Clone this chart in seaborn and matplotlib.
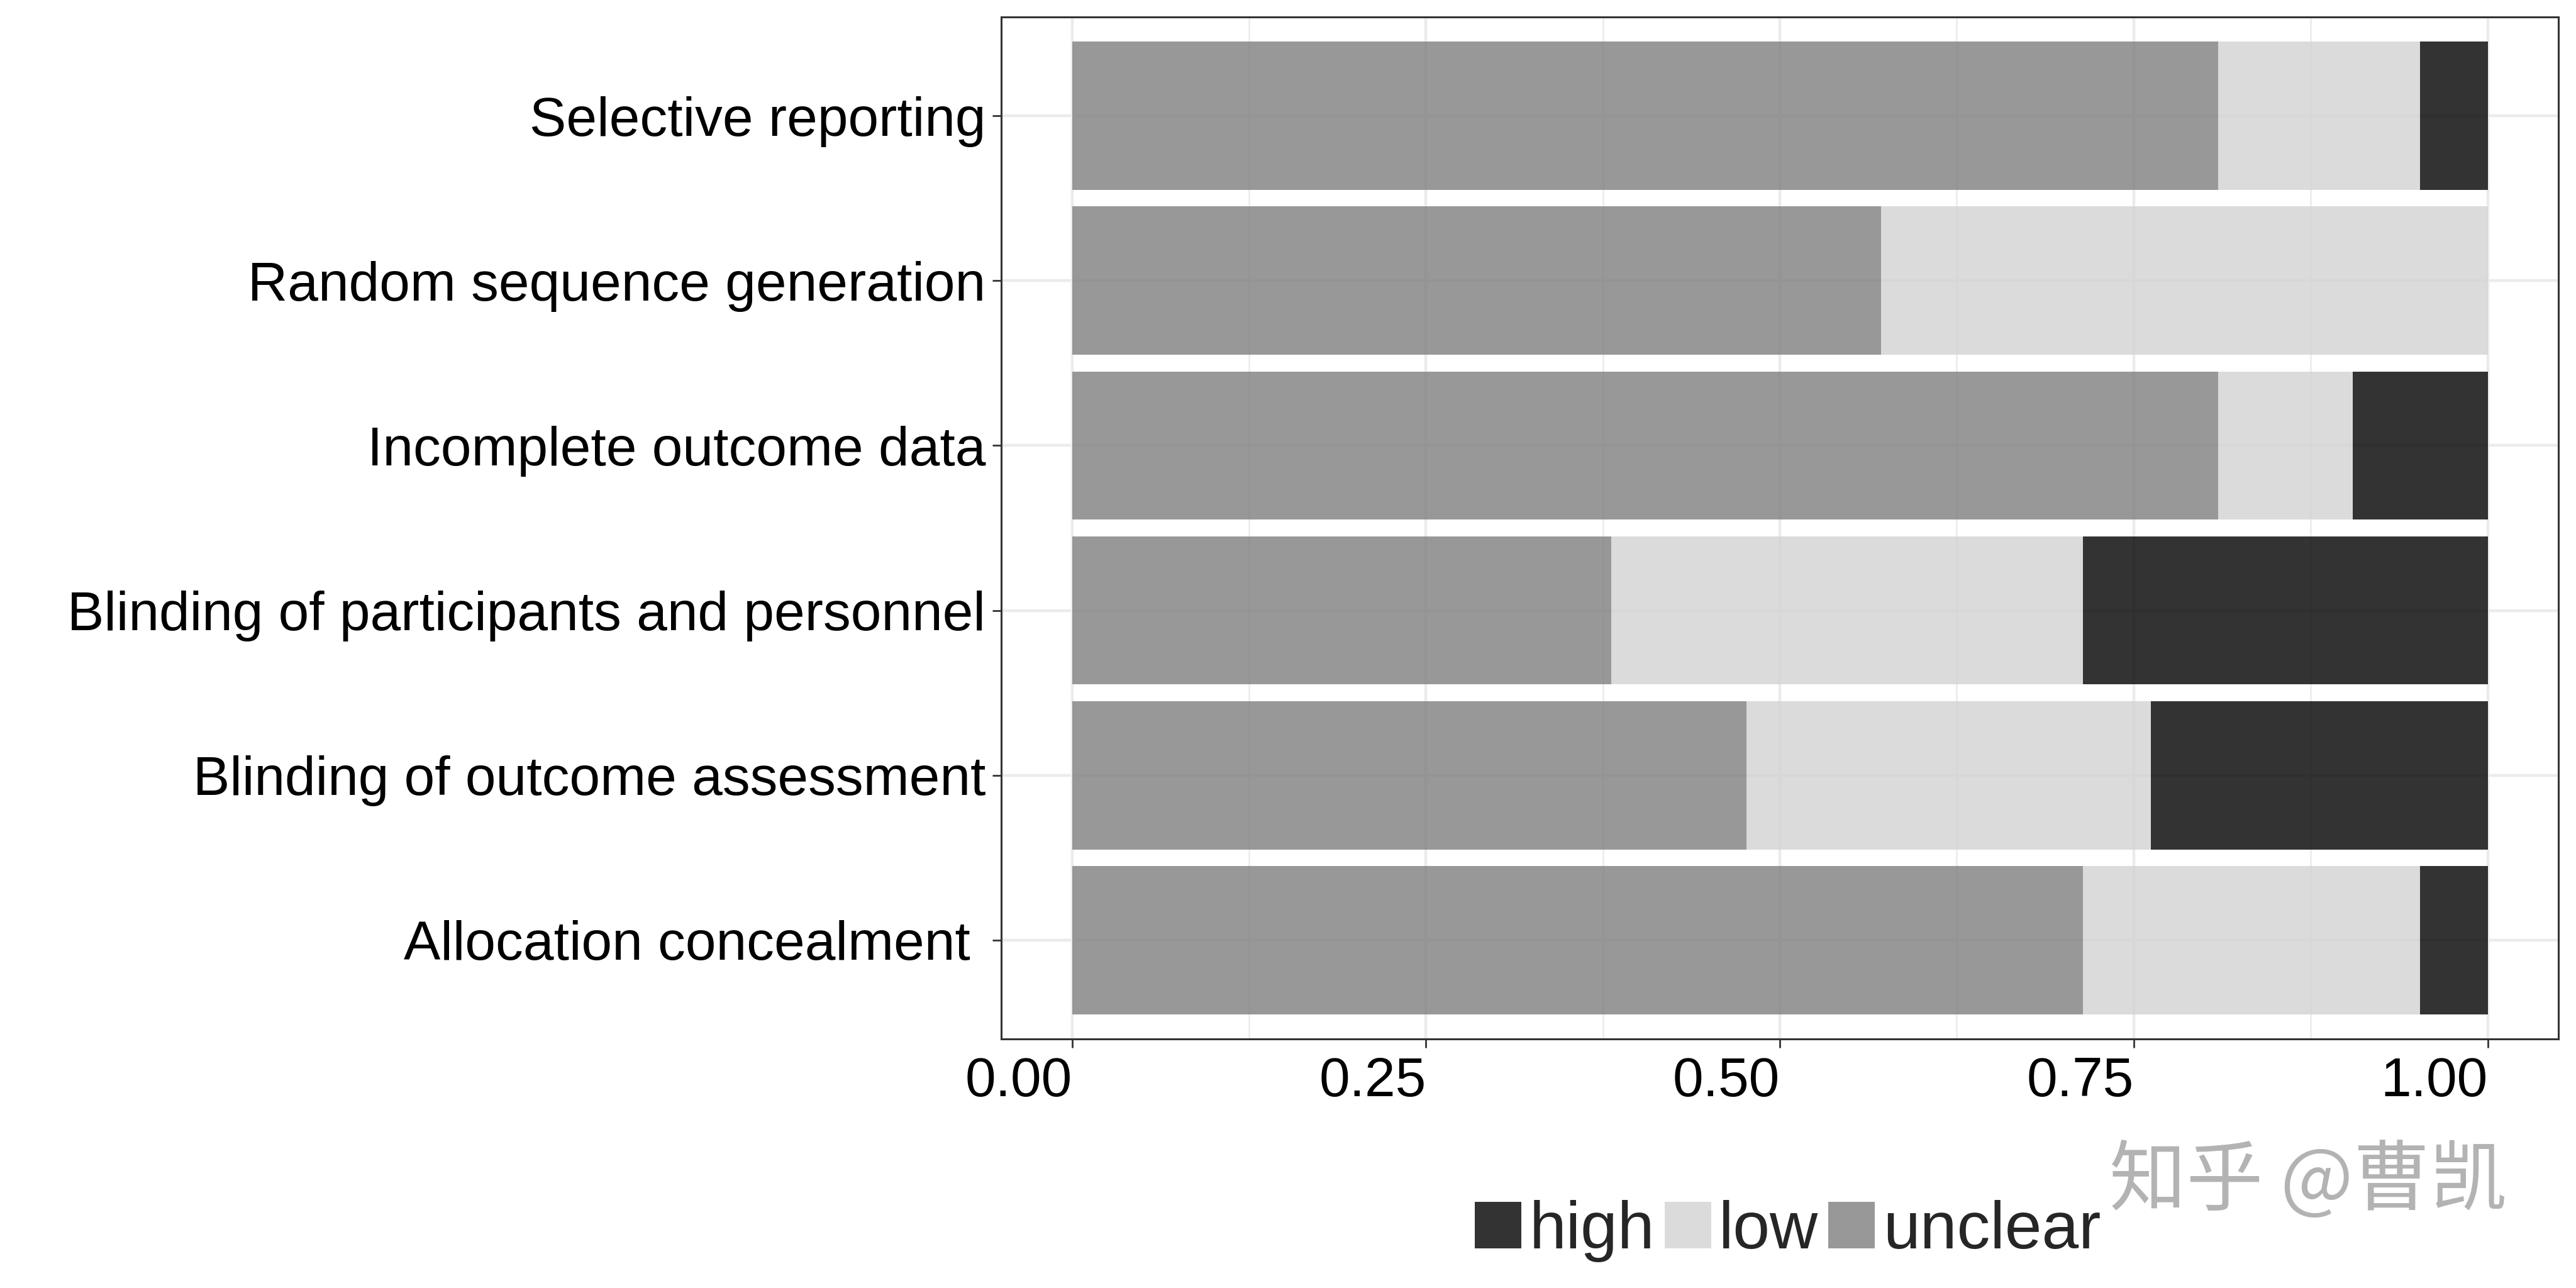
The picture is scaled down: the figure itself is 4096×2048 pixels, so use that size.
import pandas as pd
import numpy as np
import matplotlib.pyplot as plt
import seaborn as sns

# ── Data (counts out of 21 studies) ────────────────────────────
domains = ["Selective reporting",
           "Random sequence generation",
           "Incomplete outcome data",
           "Blinding of participants and personnel",
           "Blinding of outcome assessment",
           "Allocation concealment "]
unclear = [17, 12, 17, 8, 10, 15]
low     = [3, 9, 2, 7, 6, 5]
high    = [1, 0, 2, 6, 5, 1]

levels = ["unclear", "low", "high"]
fills  = {"high": "black", "low": "#D3D3D3", "unclear": "#7F7F7F"}

df = pd.DataFrame({"domain": domains, "unclear": unclear, "low": low, "high": high})
total = df[levels].sum(axis=1)
for lv in levels:
    df[lv] = df[lv] / total

# ── Style ──────────────────────────────────────────────────────
sns.set_theme(style="white")
plt.rcParams["font.family"] = ["Liberation Sans", "DejaVu Sans"]

fig = plt.figure(figsize=(40.96, 20.48), dpi=100)
ax = fig.add_axes([0.3887, 0.1934, 0.6045, 0.7934])

left = np.zeros(len(df))
for lv in levels:
    sns.barplot(data=df, y="domain", x=lv, order=domains, orient="h",
                color=fills[lv], alpha=0.8, width=0.9, left=left,
                linewidth=0, label=lv, ax=ax)
    left = left + df[lv].values

handles, labels = ax.get_legend_handles_labels()
if ax.get_legend() is not None:
    ax.get_legend().remove()

ax.set_xlim(-0.05, 1.05)
ax.set_ylim(5.6, -0.6)
ax.set_xlabel("")
ax.set_ylabel("")
ax.set_xticks([0, 0.25, 0.5, 0.75, 1.0])
ax.set_xticklabels(["0.00", "0.25", "0.50", "0.75", "1.00"], ha="right")
ax.set_xticks([0.125, 0.375, 0.625, 0.875], minor=True)

ax.set_axisbelow(True)
ax.grid(True, which="major", color="#EBEBEB", linewidth=3.2)
ax.grid(True, which="minor", axis="x", color="#EBEBEB", linewidth=1.8)

ax.tick_params(axis="both", which="major", labelsize=63, length=10, width=2,
               color="#333333", labelcolor="black", pad=8,
               left=True, bottom=True)
ax.tick_params(axis="x", which="major", pad=10)
ax.tick_params(axis="both", which="minor", length=0)

for sp in ax.spines.values():
    sp.set_visible(True)
    sp.set_color("#333333")
    sp.set_linewidth(2.2)

# ── Legend (high, low, unclear) ────────────────────────────────
hmap = dict(zip(labels, handles))
leg_order = ["high", "low", "unclear"]
fig.legend([hmap[k] for k in leg_order], leg_order, loc="center",
           bbox_to_anchor=(0.694, 0.044), ncol=3, frameon=False,
           fontsize=76, handlelength=0.7, handleheight=0.7,
           handletextpad=0.12, columnspacing=0.15, borderpad=0)

# watermark
fig.text(0.896, 0.082, "知乎 @曹凯", ha="center", va="center", fontsize=88,
         color="#B3B3B3", family=["Noto Sans CJK SC", "DejaVu Sans"])

fig.savefig("out.png", dpi=100, facecolor="white")
